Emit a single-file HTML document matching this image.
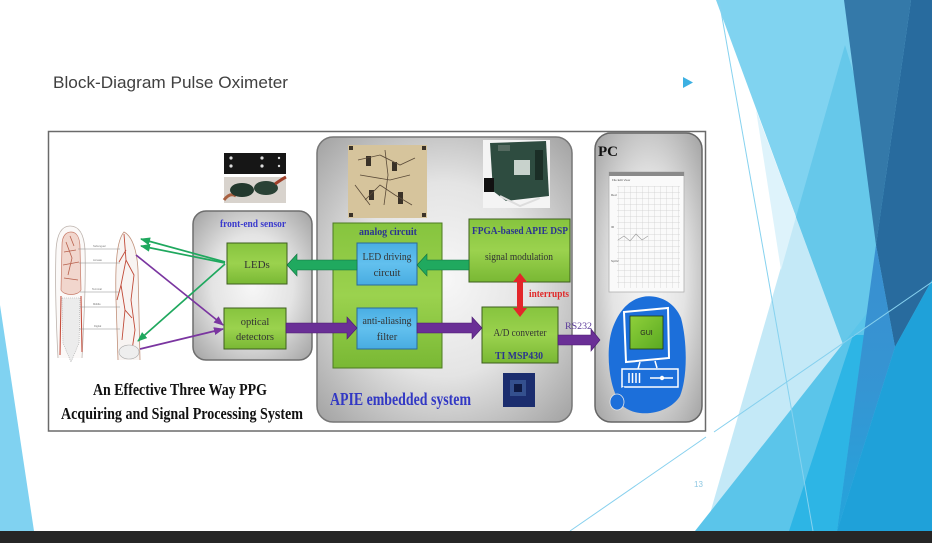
<!DOCTYPE html>
<html><head><meta charset="utf-8">
<style>
html,body{margin:0;padding:0;background:#fff;}
svg{display:block;}
</style></head><body>
<svg width="932" height="543" viewBox="0 0 932 543" xmlns="http://www.w3.org/2000/svg">
<defs>
 <radialGradient id="gbox" cx="50%" cy="50%" r="68%">
   <stop offset="0" stop-color="#f7f7f7"/>
   <stop offset="0.5" stop-color="#e4e4e4"/>
   <stop offset="1" stop-color="#a6a6a6"/>
 </radialGradient>
 <linearGradient id="green" x1="0" y1="0" x2="0" y2="1">
   <stop offset="0" stop-color="#86c43e"/>
   <stop offset="0.5" stop-color="#9bd24e"/>
   <stop offset="1" stop-color="#79b834"/>
 </linearGradient>
 <linearGradient id="blue" x1="0" y1="0" x2="0" y2="1">
   <stop offset="0" stop-color="#4aaee3"/>
   <stop offset="0.5" stop-color="#62c0ee"/>
   <stop offset="1" stop-color="#48ace1"/>
 </linearGradient>
 <linearGradient id="mb" x1="0" y1="0" x2="0" y2="1">
   <stop offset="0" stop-color="#3a8fd0"/>
   <stop offset="0.5" stop-color="#3595d3"/>
   <stop offset="1" stop-color="#24a5dc"/>
 </linearGradient>
 <linearGradient id="scr" x1="0" y1="0" x2="1" y2="1">
   <stop offset="0" stop-color="#8fd03a"/>
   <stop offset="1" stop-color="#5aa922"/>
 </linearGradient>
 <pattern id="grid" width="6" height="6" patternUnits="userSpaceOnUse">
   <path d="M6,0 L0,0 0,6" fill="none" stroke="#cdcdcd" stroke-width="0.7"/>
 </pattern>
 <marker id="ag" markerWidth="10" markerHeight="8" refX="9" refY="4" orient="auto" markerUnits="userSpaceOnUse">
   <path d="M0,0 L10,4 L0,8 z" fill="#1fa85e"/>
 </marker>
 <marker id="ap" markerWidth="10" markerHeight="8" refX="9" refY="4" orient="auto" markerUnits="userSpaceOnUse">
   <path d="M0,0 L10,4 L0,8 z" fill="#7a35a0"/>
 </marker>
</defs>

<rect width="932" height="543" fill="#fff"/>

<!-- left decorative triangle -->
<polygon points="0,305 34,531 0,531" fill="#80d2f1"/>

<!-- right decorative facets -->
<polygon points="845,45 932,330 932,531 705,531" fill="#c4e9f7"/>
<polygon points="716,0 932,0 932,531 912,531" fill="#80d3f0"/>
<polygon points="756,110 796,217 781,270" fill="#def3fb"/>
<polygon points="845,45 932,330 932,531 912,531 796,217" fill="#66c8ea"/>
<polygon points="695,531 932,231 932,531" fill="#5bc5ea"/>
<polygon points="853,335 864,335 837,531 789,531" fill="#2db5e5"/>
<polygon points="844,0 911,0 876,245" fill="#3479a9"/>
<polygon points="911,0 932,0 932,280 895,347 876,245" fill="#286b9e"/>
<polygon points="876,245 895,347 837,531" fill="url(#mb)"/>
<polygon points="895,347 932,280 932,531 837,531" fill="#1fa1d9"/>
<line x1="719" y1="0" x2="813" y2="531" stroke="#86d2ef" stroke-width="1"/>
<line x1="570" y1="531" x2="706" y2="437" stroke="#86d0ee" stroke-width="1"/>
<line x1="714" y1="432" x2="932" y2="282" stroke="#86d0ee" stroke-width="1"/>

<!-- bottom bar -->
<rect x="0" y="531" width="932" height="12" fill="#262626"/>

<!-- title -->
<text x="53" y="88" font-family="Liberation Sans, sans-serif" font-size="16.5" fill="#404040" textLength="235" lengthAdjust="spacingAndGlyphs">Block-Diagram Pulse Oximeter</text>
<polygon points="683,77 693,82.5 683,88" fill="#3db0e2"/>
<text x="694" y="487" font-family="Liberation Sans, sans-serif" font-size="8" fill="#8fc8e2">13</text>

<!-- diagram frame -->
<rect x="48.5" y="131.5" width="657" height="299.5" fill="#fff" stroke="#6a6a6a" stroke-width="1.5"/>

<!-- finger illustrations -->
<g>
 <path d="M58,358 C56,320 55,280 56,250 C57,232 63,226 70,226 C78,226 84,232 85,250 C86,280 84,320 82,358" fill="#fbf9f8" stroke="#bdb3ad" stroke-width="0.8"/>
 <path d="M62,245 C62,236 66,232 71,232 C77,232 80,238 80,248 L81,290 C78,296 64,296 61,290 Z" fill="#f1d6cd" stroke="#c77a68" stroke-width="0.7"/>
 <path d="M64,252 L76,250 M63,265 L79,262 M64,278 L78,280 M66,242 L72,258 L68,275 M70,236 L74,246" stroke="#b8604c" stroke-width="0.8" fill="none"/>
 <polygon points="62,298 80,298 79,343 71,362 63,343" fill="#ececec" stroke="#aaa" stroke-width="0.6" stroke-dasharray="1,1"/>
 <path d="M61,296 L60,355 M81,296 L82,352" stroke="#c55040" stroke-width="1.1" fill="none"/>
 <path d="M118,360 L116,300 C115,262 117,240 124,232 C132,236 137,250 138,270 L140,360" fill="#f8f4f2" stroke="#c0907a" stroke-width="0.8"/>
 <path d="M124,234 L126,260 L121,285 L125,310 L122,340 M126,260 L134,275 L131,300 L135,330 L132,350 M121,285 L117,300 M125,310 L132,318 M126,250 L119,262" stroke="#c04a38" stroke-width="0.9" fill="none"/>
 <ellipse cx="129" cy="352" rx="10" ry="7" fill="#eee" stroke="#aaa" stroke-width="0.6"/>
 <g stroke="#8a8a8a" stroke-width="0.6">
  <line x1="78" y1="249" x2="120" y2="249"/>
  <line x1="79" y1="263" x2="120" y2="263"/>
  <line x1="80" y1="292" x2="120" y2="292"/>
  <line x1="80" y1="307" x2="120" y2="307"/>
  <line x1="79" y1="329" x2="120" y2="329"/>
 </g>
 <g font-family="Liberation Sans, sans-serif" font-size="2.6" fill="#777">
  <text x="93" y="247">Subungual</text>
  <text x="93" y="261">Arcuate</text>
  <text x="92" y="290">Terminal</text>
  <text x="93" y="305">Middle</text>
  <text x="94" y="327">Digital</text>
 </g>
</g>

<!-- sensor photo -->
<rect x="224" y="153" width="62" height="21" fill="#161616"/>
<g fill="#ddd">
 <circle cx="231" cy="158" r="1.6"/><circle cx="231" cy="166" r="1.6"/>
 <circle cx="262" cy="158" r="1.6"/><circle cx="262" cy="166" r="1.6"/>
 <circle cx="279" cy="158" r="1.2"/><circle cx="279" cy="166" r="1.2"/>
</g>
<rect x="224" y="177" width="62" height="26" fill="#d8d3cd"/>
<path d="M224,200 Q230,192 236,196" stroke="#a86040" stroke-width="3" fill="none"/>
<ellipse cx="242" cy="190" rx="12" ry="7" fill="#23392e"/>
<ellipse cx="266" cy="188" rx="12" ry="7" fill="#2a4235"/>
<path d="M275,184 Q282,179 286,177" stroke="#a0402a" stroke-width="3" fill="none"/>

<!-- boxes -->
<rect x="193" y="211" width="119" height="149" rx="13" fill="url(#gbox)" stroke="#6e6e6e" stroke-width="1.5"/>
<rect x="317" y="137" width="255" height="285" rx="16" fill="url(#gbox)" stroke="#777" stroke-width="1.5"/>
<rect x="595" y="133" width="107" height="289" rx="16" fill="url(#gbox)" stroke="#666" stroke-width="1.5"/>

<!-- analog circuit photo -->
<rect x="348" y="145" width="79" height="73" fill="#d6c49c"/>
<g fill="#3a3228">
 <rect x="349" y="146" width="4" height="4"/><rect x="422" y="146" width="4" height="4"/>
 <rect x="349" y="213" width="4" height="4"/><rect x="422" y="213" width="4" height="4"/>
 <rect x="366" y="156" width="5" height="10"/><rect x="392" y="162" width="5" height="9"/>
 <rect x="369" y="190" width="5" height="10"/><rect x="398" y="192" width="5" height="12"/>
</g>
<g stroke="#5a4a38" stroke-width="0.8" fill="none">
 <path d="M358,160 L380,155 L400,165 L415,158 M360,175 L390,180 L410,175 M365,200 L380,185 L395,195 L412,205 M355,185 L370,205 M385,150 L388,175 L384,205"/>
</g>

<!-- FPGA photo -->
<rect x="483" y="140" width="67" height="68" fill="#f4f4f4"/>
<polygon points="490,143 546,141 549,196 506,201 493,191" fill="#2e4c40"/>
<rect x="514" y="160" width="16" height="15" fill="#c8d2cc"/>
<rect x="484" y="178" width="10" height="14" fill="#111"/>
<rect x="498" y="145" width="12" height="6" fill="#556a60"/>
<rect x="535" y="150" width="8" height="30" fill="#1b2e26"/>
<path d="M500,196 L520,206 L540,198" stroke="#ddd" stroke-width="2" fill="none"/>

<!-- chip photo -->
<rect x="503" y="373" width="32" height="34" fill="#1b2d6e"/>
<rect x="510" y="380" width="16" height="16" fill="#34508e"/>
<rect x="514" y="384" width="8" height="8" fill="#0e1a44"/>

<!-- green / blue blocks -->
<rect x="227" y="243" width="60" height="41" fill="url(#green)" stroke="#3d5e1e" stroke-width="1"/>
<rect x="224" y="308" width="62" height="41" fill="url(#green)" stroke="#3d5e1e" stroke-width="1"/>
<rect x="333" y="223" width="109" height="145" fill="url(#green)" stroke="#4c7a22" stroke-width="1"/>
<rect x="357" y="243" width="60" height="42" fill="url(#blue)" stroke="#2a6a9a" stroke-width="1"/>
<rect x="357" y="308" width="60" height="41" fill="url(#blue)" stroke="#2a6a9a" stroke-width="1"/>
<rect x="469" y="219" width="101" height="63" fill="url(#green)" stroke="#3d5e1e" stroke-width="1"/>
<rect x="482" y="307" width="76" height="56" fill="url(#green)" stroke="#3d5e1e" stroke-width="1"/>

<!-- thin arrows finger <-> sensor -->
<g fill="none" stroke-width="1.7">
 <line x1="225" y1="262" x2="141" y2="239" stroke="#1fa85e" marker-end="url(#ag)"/>
 <line x1="225" y1="263" x2="141" y2="246" stroke="#1fa85e" marker-end="url(#ag)"/>
 <line x1="225" y1="264" x2="138" y2="341" stroke="#1fa85e" marker-end="url(#ag)"/>
 <line x1="136" y1="255" x2="223" y2="325" stroke="#7a35a0" marker-end="url(#ap)"/>
 <line x1="140" y1="349" x2="223" y2="329" stroke="#7a35a0" marker-end="url(#ap)"/>
</g>

<!-- thick arrows -->
<polygon points="417,265 427,254 427,260 469,260 469,270 427,270 427,276" fill="#20a95f" stroke="#137040" stroke-width="0.6"/>
<polygon points="287,265 297,254 297,260 357,260 357,270 297,270 297,276" fill="#20a95f" stroke="#137040" stroke-width="0.6"/>
<polygon points="286,323 347,323 347,317 357,328 347,339 347,333 286,333" fill="#6a2f96" stroke="#4a1a70" stroke-width="0.6"/>
<polygon points="417,323 472,323 472,317 482,328 472,339 472,333 417,333" fill="#6a2f96" stroke="#4a1a70" stroke-width="0.6"/>
<polygon points="558,335 591,335 591,329 600,340 591,351 591,345 558,345" fill="#6a2f96" stroke="#4a1a70" stroke-width="0.6"/>
<polygon points="520,273 527,282 523,282 523,308 527,308 520,317 513,308 517,308 517,282 513,282" fill="#e3262a"/>

<!-- labels -->
<g font-family="Liberation Serif, serif" text-anchor="middle">
 <text x="253" y="227" font-size="10" font-weight="bold" fill="#3a3acd" textLength="66" lengthAdjust="spacingAndGlyphs">front-end sensor</text>
 <text x="257" y="268" font-size="11" fill="#333">LEDs</text>
 <text x="255" y="325" font-size="10.5" fill="#333">optical</text>
 <text x="255" y="340" font-size="10.5" fill="#333">detectors</text>
 <text x="388" y="235" font-size="10" font-weight="bold" fill="#2b3590" textLength="58" lengthAdjust="spacingAndGlyphs">analog  circuit</text>
 <text x="387" y="260" font-size="10.5" fill="#333" textLength="49" lengthAdjust="spacingAndGlyphs">LED driving</text>
 <text x="387" y="276" font-size="10.5" fill="#333">circuit</text>
 <text x="387" y="324" font-size="10.5" fill="#333" textLength="49" lengthAdjust="spacingAndGlyphs">anti-aliasing</text>
 <text x="387" y="340" font-size="10.5" fill="#333">filter</text>
 <text x="520" y="234" font-size="10.5" font-weight="bold" fill="#2b3590" textLength="96" lengthAdjust="spacingAndGlyphs">FPGA-based APIE DSP</text>
 <text x="519" y="260" font-size="10" fill="#333" textLength="68" lengthAdjust="spacingAndGlyphs">signal modulation</text>
 <text x="520" y="336" font-size="10" fill="#333" textLength="53" lengthAdjust="spacingAndGlyphs">A/D converter</text>
 <text x="519" y="359" font-size="10" font-weight="bold" fill="#2b3590" textLength="48" lengthAdjust="spacingAndGlyphs">TI MSP430</text>
 <text x="180" y="395" font-size="17" font-weight="bold" fill="#111" textLength="174" lengthAdjust="spacingAndGlyphs">An Effective Three Way PPG</text>
 <text x="182" y="419" font-size="17" font-weight="bold" fill="#111" textLength="242" lengthAdjust="spacingAndGlyphs">Acquiring and Signal Processing System</text>
</g>
<g font-family="Liberation Serif, serif">
 <text x="529" y="297" font-size="10" font-weight="bold" fill="#e02828" textLength="40" lengthAdjust="spacingAndGlyphs">interrupts</text>
 <text x="565" y="329" font-size="9" fill="#5b3a9a" textLength="27" lengthAdjust="spacingAndGlyphs">RS232</text>
 <text x="330" y="405" font-size="18" font-weight="bold" fill="#3238c4" textLength="141" lengthAdjust="spacingAndGlyphs">APIE embedded system</text>
 <text x="598" y="156" font-size="15" font-weight="bold" fill="#111">PC</text>
</g>

<!-- PC screenshot -->
<rect x="609" y="172" width="75" height="120" fill="#fafafa" stroke="#b0b0b0" stroke-width="0.8"/>
<rect x="609" y="172" width="75" height="4" fill="#8a8a8a"/>
<rect x="617" y="186" width="63" height="102" fill="url(#grid)"/>
<g font-family="Liberation Sans, sans-serif" font-size="3" fill="#555">
 <text x="612" y="181">File  Edit  View</text>
 <text x="611" y="196">Red</text>
 <text x="611" y="228">IR</text>
 <text x="611" y="262">SpO2</text>
</g>
<path d="M618,240 L624,236 L630,241 L636,234 L642,240 L648,236" stroke="#999" stroke-width="0.6" fill="none"/>

<!-- computer icon -->
<path d="M612,330 C605,352 609,394 624,407 C640,419 670,413 680,396 C688,376 687,340 681,318 C673,298 651,292 636,299 C623,305 616,318 612,330 Z" fill="#1c6fda"/>
<polygon points="624,312 668,308 669,358 626,362" fill="#1c6fda" stroke="#fff" stroke-width="2"/>
<rect x="630" y="316" width="33" height="33" fill="url(#scr)" stroke="#1d3a18" stroke-width="0.8"/>
<text x="646.5" y="335" font-family="Liberation Sans, sans-serif" font-size="7" fill="#222" text-anchor="middle">GUI</text>
<path d="M640,362 L638,369 M655,361 L657,368" stroke="#fff" stroke-width="1.5"/>
<rect x="622" y="369" width="56" height="18" fill="#1c6fda" stroke="#fff" stroke-width="1.5"/>
<g stroke="#fff" stroke-width="1.5">
 <line x1="629" y1="373" x2="629" y2="383"/><line x1="632.5" y1="373" x2="632.5" y2="383"/>
 <line x1="636" y1="373" x2="636" y2="383"/><line x1="639.5" y1="373" x2="639.5" y2="383"/>
 <line x1="650" y1="378" x2="673" y2="378"/>
</g>
<circle cx="662" cy="378" r="2.2" fill="#fff"/>
<path d="M624,387 Q618,392 618,396" stroke="#1c6fda" stroke-width="1.5" fill="none"/>
<ellipse cx="617" cy="402" rx="7" ry="8" fill="#1c6fda" stroke="#e8e8e8" stroke-width="0.8"/>
</svg>
</body></html>
